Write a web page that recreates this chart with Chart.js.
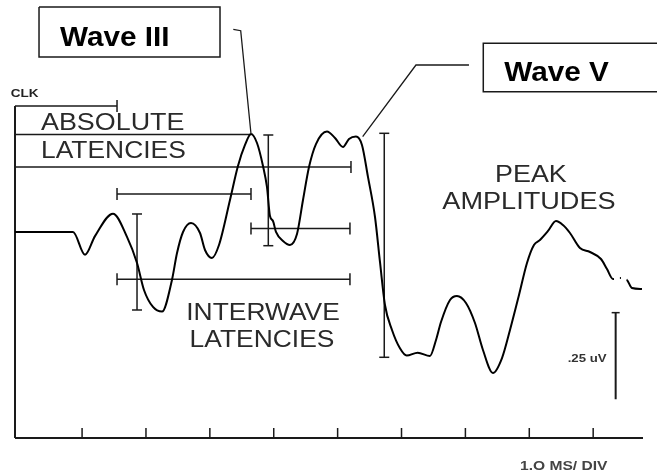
<!DOCTYPE html>
<html>
<head>
<meta charset="utf-8">
<script src="https://cdn.jsdelivr.net/npm/chart.js@4/dist/chart.umd.min.js"></script>
<style>
  body { margin: 0; background: #fff; }
  #wrap { width: 657px; height: 474px; }
</style>
</head>
<body>
<div id="wrap"><canvas id="grafico" width="657" height="474"></canvas></div>
<script>
// Forma de onda (ms, uV)
const waveX = [-0.05, 0.858, 1.046, 1.202, 1.484, 1.703, 1.86, 1.969, 2.11, 2.251, 2.407, 2.486, 2.58, 2.705, 2.846, 2.924, 3.033, 3.143, 3.315, 3.44, 3.55, 3.644, 3.738, 3.832, 3.894, 3.941, 3.988, 4.035, 4.145, 4.254, 4.364, 4.458, 4.552, 4.661, 4.833, 4.959, 5.084, 5.178, 5.287, 5.381, 5.475, 5.585, 5.663, 5.741, 5.851, 5.976, 6.081, 6.253, 6.446, 6.54, 6.618, 6.759, 6.868, 7.009, 7.15, 7.275, 7.432, 7.573, 7.698, 7.839, 7.964, 8.073, 8.167, 8.293, 8.418, 8.527, 8.637, 8.793, 8.95, 9.122, 9.216, 9.31, 9.419, 9.529, 9.607, 9.764];
const waveY = [0, 0, -0.066, -0.012, 0.053, -0.014, -0.0895, -0.1675, -0.2166, -0.23, -0.1386, -0.0607, 0, 0.026, -0.003, -0.052, -0.075, -0.0375, 0.0924, 0.1906, 0.2513, 0.283, 0.257, 0.1906, 0.13, 0.0462, 0.0318, 0, -0.026, -0.0375, -0.0058, 0.0924, 0.1877, 0.254, 0.29, 0.2715, 0.2455, 0.2686, 0.2758, 0.2513, 0.159, 0.0433, -0.0866, -0.2108, -0.283, -0.336, -0.357, -0.3486, -0.358, -0.312, -0.26, -0.1964, -0.1848, -0.205, -0.2628, -0.3408, -0.4072, -0.364, -0.283, -0.182, -0.0895, -0.0375, -0.0231, 0.0029, 0.0318, 0.0202, -0.0029, -0.0462, -0.0578, -0.078, -0.1069, -0.1357, -0.1329, -0.1386, -0.1617, -0.1646];
const dottedFrom = [71, 72];

// Latencias: x desde, x hasta, nivel y, remate izq, remate der
const latencyLines = [
  [-0.05, 1.547, 0.364, false, true],   // CLK
  [-0.05, 3.644, 0.2816, false, false], // absoluta onda III
  [-0.05, 5.209, 0.1877, false, true],  // absoluta onda V
  [1.547, 3.644, 0.1097, true, true],   // I-III
  [3.644, 5.193, 0.0101, true, true],   // III-V
  [1.547, 5.193, -0.1366, true, true]   // I-V
];

// Amplitudes: x, y arriba, y abajo
const amplitudeBars = [
  [1.86, 0.052, -0.2253],
  [3.915, 0.2801, -0.0396],
  [5.73, 0.285, -0.3619]
];
const scaleBar = [9.352, -0.233, -0.4832]; // .25 uV

// Ejes
const xMin = -0.05, xMax = 9.78, yMin = -0.595, yMax = 0.67;
const axisTop = 0.364;
const tickMs = [1, 2, 3, 4, 5, 6, 7, 8, 9];

// Rotulos con recuadro y lineas guia
const waveIIIBox = [[0.326, 0.65], [3.159, 0.65], [3.159, 0.5054], [0.326, 0.5054], [0.326, 0.65]];
const waveVBox = [[10.3, 0.545], [7.28, 0.545], [7.28, 0.4052], [10.3, 0.4052]];
const waveIIILeader = [[3.367, 0.5854], [3.483, 0.5814], [3.643, 0.285]];
const waveVLeader = [[7.056, 0.4823], [6.226, 0.4823], [5.392, 0.2752]];

const INK = '#1a1a1a';

function linea(puntos, opts = {}) {
  return {
    data: puntos.map(p => ({ x: p[0], y: p[1] })),
    showLine: true,
    borderColor: INK,
    borderWidth: opts.width || 1.5,
    pointRadius: opts.radius || 0,
    pointStyle: 'line',
    rotation: opts.rotation || 0,
    pointBorderColor: INK,
    pointBorderWidth: 1.5,
    clip: false
  };
}

const datasets = [];

// Onda principal
datasets.push({
  data: waveX.map((x, i) => ({ x: x, y: waveY[i] })),
  showLine: true,
  borderColor: '#000',
  borderWidth: 2,
  pointRadius: 0,
  cubicInterpolationMode: 'monotone',
  clip: false,
  segment: {
    borderDash: ctx => dottedFrom.includes(ctx.p0DataIndex) ? [1, 6] : undefined
  }
});

// Ejes
datasets.push(linea([[xMin, axisTop], [xMin, yMin]], { width: 2 }));
datasets.push(linea([[xMin, yMin], [xMax, yMin]], { width: 2 }));
datasets.push({
  data: tickMs.map(t => ({ x: t, y: yMin + 0.0145 })),
  showLine: false,
  pointStyle: 'line',
  rotation: 90,
  pointRadius: 5,
  pointBorderColor: INK,
  pointBorderWidth: 1.5,
  clip: false
});

// Latencias
latencyLines.forEach(l => {
  const ds = linea([[l[0], l[2]], [l[1], l[2]]], { rotation: 90 });
  ds.pointRadius = [l[3] ? 6 : 0, l[4] ? 6 : 0];
  datasets.push(ds);
});

// Amplitudes
amplitudeBars.forEach(b => {
  datasets.push(linea([[b[0], b[1]], [b[0], b[2]]], { radius: 5 }));
});
const barra = linea([[scaleBar[0], scaleBar[1]], [scaleBar[0], scaleBar[2]]], { width: 2 });
barra.pointRadius = [4, 0];
datasets.push(barra);

// Recuadros y guias
datasets.push(linea(waveIIIBox, { width: 1.5 }));
datasets.push(linea(waveVBox, { width: 1.5 }));
datasets.push(linea(waveIIILeader, { width: 1.3 }));
datasets.push(linea(waveVLeader, { width: 1.3 }));

// Textos (posicion en ms / uV)
const textos = [
  { t: 'CLK', x: -0.117, y: 0.3908, font: 'bold 10px', sx: 1.35, align: 'left', color: '#222' },
  { t: 'ABSOLUTE', x: 0.357, y: 0.2946, font: '24px', sx: 1.12, align: 'left', color: '#2a2a2a' },
  { t: 'LATENCIES', x: 0.357, y: 0.2137, font: '24px', sx: 1.1, align: 'left', color: '#2a2a2a' },
  { t: 'PEAK', x: 8.026, y: 0.1444, font: '24px', sx: 1.12, align: 'center', color: '#2a2a2a' },
  { t: 'AMPLITUDES', x: 7.995, y: 0.0664, font: '24px', sx: 1.13, align: 'center', color: '#2a2a2a' },
  { t: 'INTERWAVE', x: 3.832, y: -0.2542, font: '24px', sx: 1.1, align: 'center', color: '#2a2a2a' },
  { t: 'LATENCIES', x: 3.816, y: -0.3321, font: '24px', sx: 1.1, align: 'center', color: '#2a2a2a' },
  { t: 'Wave III', x: 0.654, y: 0.538, font: 'bold 27px', sx: 1.1, align: 'left', color: '#000' },
  { t: 'Wave V', x: 7.608, y: 0.436, font: 'bold 27px', sx: 1.1, align: 'left', color: '#000' },
  { t: '.25 uV', x: 8.601, y: -0.3746, font: 'bold 11px', sx: 1.2, align: 'left', color: '#333' },
  { t: '1.O MS/ DIV', x: 7.854, y: -0.6874, font: 'bold 13px', sx: 1.2, align: 'left', color: '#444' }
];

const pluginTextos = {
  id: 'textos',
  afterDatasetsDraw(chart) {
    const ctx = chart.ctx;
    const sx = chart.scales.x, sy = chart.scales.y;
    textos.forEach(d => {
      ctx.save();
      ctx.font = d.font + ' "Liberation Sans", Arial, sans-serif';
      ctx.fillStyle = d.color;
      ctx.textBaseline = 'alphabetic';
      ctx.textAlign = d.align;
      ctx.translate(sx.getPixelForValue(d.x), sy.getPixelForValue(d.y));
      ctx.scale(d.sx, 1);
      ctx.fillText(d.t, 0, 0);
      ctx.restore();
    });
  }
};

new Chart(document.getElementById('grafico'), {
  type: 'scatter',
  data: { datasets: datasets },
  options: {
    responsive: false,
    animation: false,
    devicePixelRatio: 1,
    layout: { autoPadding: false, padding: { left: 15, right: 14, top: 0, bottom: 36 } },
    plugins: { legend: { display: false }, tooltip: { enabled: false } },
    scales: {
      x: { type: 'linear', min: xMin, max: xMax, display: false },
      y: { type: 'linear', min: yMin, max: yMax, display: false }
    }
  },
  plugins: [pluginTextos]
});
</script>
</body>
</html>
